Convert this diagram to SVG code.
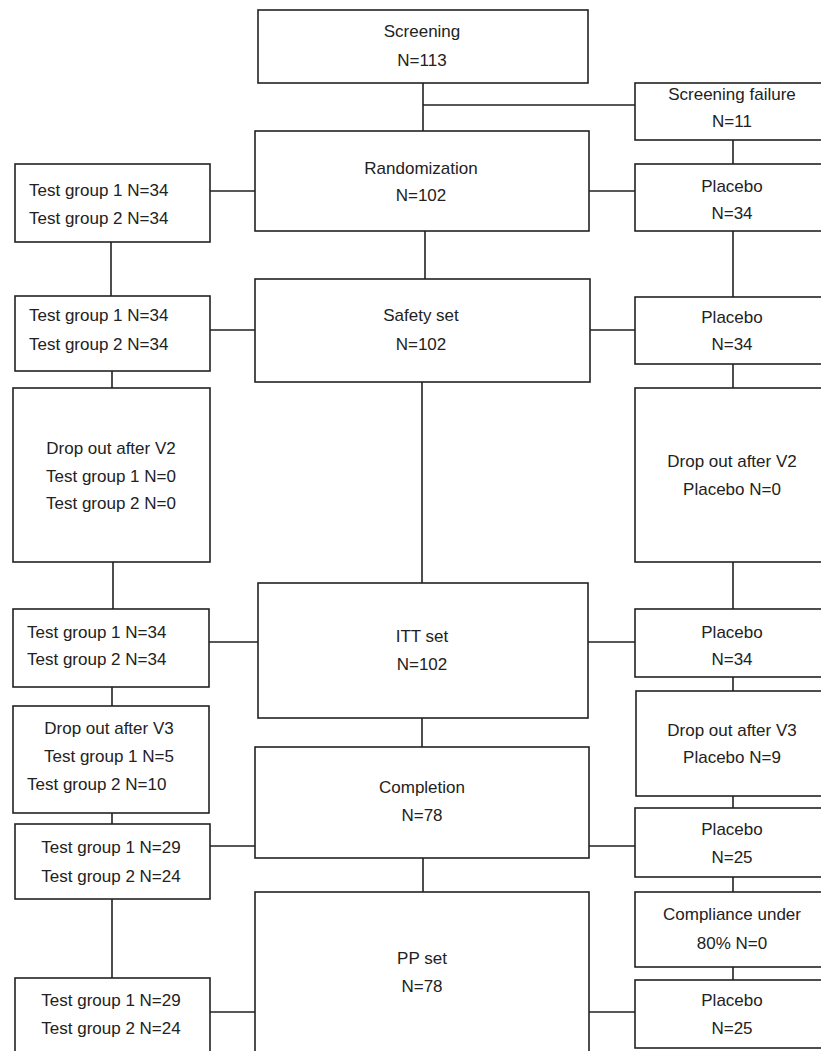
<svg xmlns="http://www.w3.org/2000/svg" width="821" height="1051" viewBox="0 0 821 1051">
<style>
.b{fill:#fff;stroke:#222;stroke-width:1.6}
.c{stroke:#222;stroke-width:1.6;fill:none}
text{font-family:"Liberation Sans",Arial,sans-serif;font-size:17px;fill:#222}
.m{text-anchor:middle}
</style>
<rect width="821" height="1051" fill="#fff"/>
<g id="connectors">
<path class="c" d="M423,83V131M423,105H635M733,140V164M425,231V279M733,231V297M111,242V296M210,191H255M589,191H635M210,330H255M590,330H635M112,371V388M733,364V388M422,382V583M113,562V609M733,562V609M209,642H258M588,642H635M112,687V706M733,677V691M422,718V747M112,813V824M733,796V808M210,846H255M589,846H635M423,858V892M733,877V892M112,899V978M733,967V980M210,1012H255M589,1012H635"/>
</g>
<g id="screening"><rect class="b" x="258" y="10" width="330" height="73"/><text class="m" x="422" y="37">Screening</text><text class="m" x="422" y="66">N=113</text></g>
<g id="screening-failure"><rect class="b" x="635" y="83" width="196" height="57"/><text class="m" x="732" y="100">Screening failure</text><text class="m" x="732" y="127">N=11</text></g>
<g id="randomization"><rect class="b" x="255" y="131" width="334" height="100"/><text class="m" x="421" y="174">Randomization</text><text class="m" x="421" y="201">N=102</text></g>
<g id="test1"><rect class="b" x="15" y="164" width="195" height="78"/><text x="29" y="196">Test group 1 N=34</text><text x="29" y="224">Test group 2 N=34</text></g>
<g id="placebo1"><rect class="b" x="635" y="164" width="196" height="67"/><text class="m" x="732" y="192">Placebo</text><text class="m" x="732" y="219">N=34</text></g>
<g id="safety"><rect class="b" x="255" y="279" width="335" height="103"/><text class="m" x="421" y="321">Safety set</text><text class="m" x="421" y="350">N=102</text></g>
<g id="test2"><rect class="b" x="15" y="296" width="195" height="75"/><text x="29" y="321">Test group 1 N=34</text><text x="29" y="350">Test group 2 N=34</text></g>
<g id="placebo2"><rect class="b" x="635" y="297" width="196" height="67"/><text class="m" x="732" y="323">Placebo</text><text class="m" x="732" y="350">N=34</text></g>
<g id="dropout-v2-test"><rect class="b" x="13" y="388" width="197" height="174"/><text class="m" x="111" y="454">Drop out after V2</text><text class="m" x="111" y="482">Test group 1 N=0</text><text class="m" x="111" y="509">Test group 2 N=0</text></g>
<g id="dropout-v2-placebo"><rect class="b" x="635" y="388" width="196" height="174"/><text class="m" x="732" y="467">Drop out after V2</text><text class="m" x="732" y="495">Placebo N=0</text></g>
<g id="itt"><rect class="b" x="258" y="583" width="330" height="135"/><text class="m" x="422" y="642">ITT set</text><text class="m" x="422" y="670">N=102</text></g>
<g id="test3"><rect class="b" x="13" y="609" width="196" height="78"/><text x="27" y="638">Test group 1 N=34</text><text x="27" y="665">Test group 2 N=34</text></g>
<g id="placebo3"><rect class="b" x="635" y="609" width="196" height="68"/><text class="m" x="732" y="638">Placebo</text><text class="m" x="732" y="665">N=34</text></g>
<g id="dropout-v3-test"><rect class="b" x="13" y="706" width="196" height="107"/><text class="m" x="109" y="734">Drop out after V3</text><text class="m" x="109" y="762">Test group 1 N=5</text><text x="27" y="790">Test group 2 N=10</text></g>
<g id="dropout-v3-placebo"><rect class="b" x="636" y="691" width="195" height="105"/><text class="m" x="732" y="736">Drop out after V3</text><text class="m" x="732" y="763">Placebo N=9</text></g>
<g id="completion"><rect class="b" x="255" y="747" width="334" height="111"/><text class="m" x="422" y="793">Completion</text><text class="m" x="422" y="821">N=78</text></g>
<g id="test4"><rect class="b" x="15" y="824" width="195" height="75"/><text class="m" x="111" y="853">Test group 1 N=29</text><text class="m" x="111" y="882">Test group 2 N=24</text></g>
<g id="placebo4"><rect class="b" x="635" y="808" width="196" height="69"/><text class="m" x="732" y="835">Placebo</text><text class="m" x="732" y="863">N=25</text></g>
<g id="pp"><rect class="b" x="255" y="892" width="334" height="170"/><text class="m" x="422" y="964">PP set</text><text class="m" x="422" y="992">N=78</text></g>
<g id="compliance"><rect class="b" x="635" y="892" width="196" height="75"/><text class="m" x="732" y="920">Compliance under</text><text class="m" x="732" y="949">80% N=0</text></g>
<g id="test5"><rect class="b" x="15" y="978" width="195" height="84"/><text class="m" x="111" y="1006">Test group 1 N=29</text><text class="m" x="111" y="1034">Test group 2 N=24</text></g>
<g id="placebo5"><rect class="b" x="635" y="980" width="196" height="68"/><text class="m" x="732" y="1006">Placebo</text><text class="m" x="732" y="1034">N=25</text></g>
</svg>
